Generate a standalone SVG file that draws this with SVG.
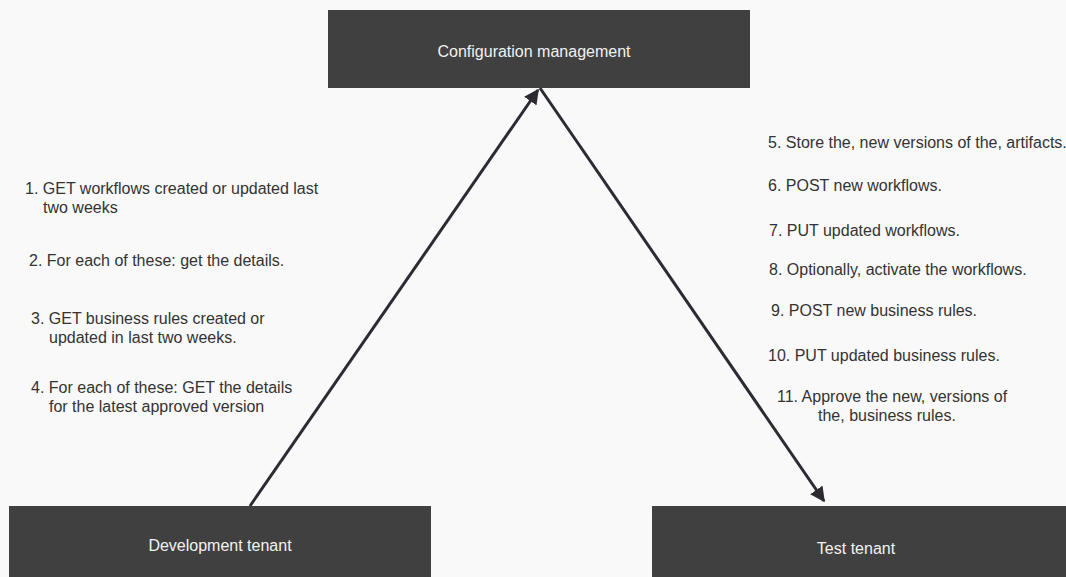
<svg xmlns="http://www.w3.org/2000/svg" width="1066" height="577" viewBox="0 0 1066 577">
<style>
.box{fill:#404040}
.bt{font-family:"Liberation Sans",Arial,sans-serif;font-size:16px;fill:#f2f2f2;text-anchor:middle}
.lt{font-family:"Liberation Sans",Arial,sans-serif;font-size:16px;fill:#333333}
.conn{stroke:#2d2a33;stroke-width:3;fill:none}
</style>
<defs>
<marker id="ah" viewBox="0 0 10 10" refX="9" refY="5" markerWidth="5" markerHeight="5" markerUnits="strokeWidth" orient="auto">
<path d="M0,0 L10,5 L0,10 z" fill="#2d2a33"/>
</marker>
</defs>
<rect width="1066" height="577" fill="#f9f9f9"/>
<g id="config">
<rect class="box" x="328" y="10" width="422" height="78"/>
<text class="bt" x="534" y="57">Configuration management</text>
</g>
<g id="dev">
<rect class="box" x="9" y="506" width="422" height="71"/>
<text class="bt" x="220" y="551">Development tenant</text>
</g>
<g id="test">
<rect class="box" x="652" y="506" width="414" height="71"/>
<text class="bt" x="856" y="554">Test tenant</text>
</g>
<g id="connectors">
<line class="conn" x1="250" y1="506" x2="538" y2="90" marker-end="url(#ah)"/>
<line class="conn" x1="540" y1="88" x2="824" y2="501" marker-end="url(#ah)"/>
</g>
<g id="labels">
<text class="lt" x="25" y="194">1. GET workflows created or updated last</text>
<text class="lt" x="43" y="213">two weeks</text>
<text class="lt" x="29" y="266">2. For each of these: get the details.</text>
<text class="lt" x="31" y="324">3. GET business rules created or</text>
<text class="lt" x="49" y="343">updated in last two weeks.</text>
<text class="lt" x="31" y="393">4. For each of these: GET the details</text>
<text class="lt" x="49" y="412">for the latest approved version</text>
<text class="lt" x="768" y="148">5. Store the, new versions of the, artifacts.</text>
<text class="lt" x="768" y="191">6. POST new workflows.</text>
<text class="lt" x="769" y="236">7. PUT updated workflows.</text>
<text class="lt" x="769" y="275">8. Optionally, activate the workflows.</text>
<text class="lt" x="771" y="316">9. POST new business rules.</text>
<text class="lt" x="768" y="361">10. PUT updated business rules.</text>
<text class="lt" x="777" y="402">11. Approve the new, versions of</text>
<text class="lt" x="818" y="421">the, business rules.</text>
</g>
</svg>
